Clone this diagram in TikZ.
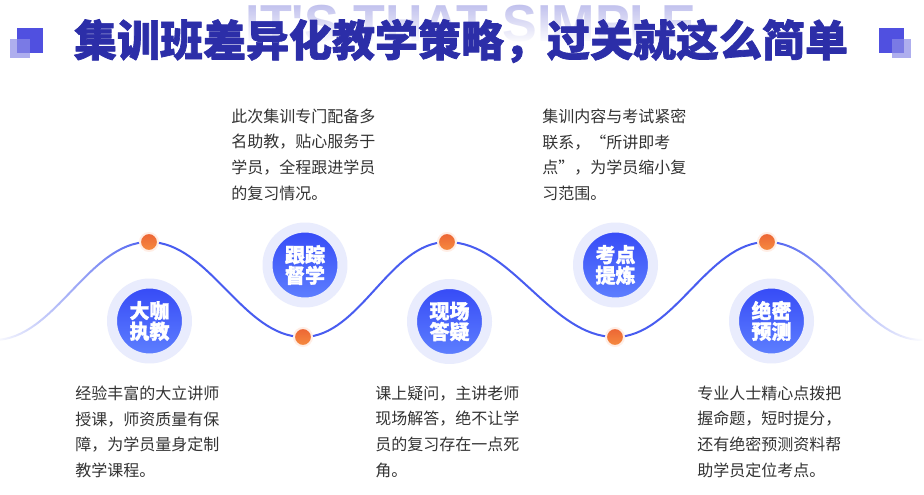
\documentclass[tikz,border=0pt]{standalone}
\usepackage{fontspec}
\usetikzlibrary{fadings}
\newfontfamily\cjk{Noto Sans CJK SC}
\newfontfamily\cjkheavy{Noto Sans CJK SC}[BoldFeatures={FakeBold=1.6}]
\newfontfamily\latinsans{Liberation Sans}

\definecolor{titleblue}{RGB}{44,46,168}
\definecolor{ghostlav}{RGB}{180,180,234}
\definecolor{sqdark}{RGB}{80,80,224}
\definecolor{sqlight}{RGB}{140,140,232}
\definecolor{waveblue}{RGB}{72,92,240}
\definecolor{ringlav}{RGB}{233,236,253}
\definecolor{badgetop}{RGB}{52,72,246}
\definecolor{badgebot}{RGB}{96,130,255}
\definecolor{dottop}{RGB}{236,100,52}
\definecolor{dotbot}{RGB}{246,140,64}
\definecolor{halopink}{RGB}{255,238,230}
\definecolor{bodygray}{RGB}{51,51,51}
\definecolor{arcgray}{RGB}{234,234,246}

\tikzfading[name=ghostfade,top color=transparent!92,bottom color=transparent!0]

\tikzset{
  badge/.style={circle,inner sep=0pt,minimum size=56.25pt,
    top color=badgetop,bottom color=badgebot,draw=ringlav,line width=7.5pt,
    text=white,align=center,font=\cjkheavy\bfseries\fontsize{15}{15.5}\selectfont},
  wavedot/.style={circle,inner sep=0pt,minimum size=13.5pt,
    top color=dottop,bottom color=dotbot,draw=halopink,line width=1.5pt},
  blurb/.style={anchor=north west,inner sep=0pt,align=left,text=bodygray,
    font=\cjk\fontsize{12}{19.3}\selectfont},
  wave/.style={waveblue,line width=1.5pt}
}

\begin{document}
\begin{tikzpicture}[x=0.75pt,y=-0.75pt,line cap=round,line join=round]
        \useasboundingbox (0,0) rectangle (924,495);
        \fill[white] (0,0) rectangle (924,495);

        % Arcos tenues del fondo
        \foreach \r in {0,9,20} {
            \draw[arcgray,line width=0.75pt]
                (2+\r,300) ++(186:1000+\r) arc[start angle=186,end angle=165,radius=1000+\r];
        }

        % Cuadros decorativos
        \fill[sqdark] (17,28) rectangle (43,53);
        \fill[sqlight,opacity=0.7] (10,39) rectangle (30,58);
        \fill[sqdark] (879,28) rectangle (904,53);
        \fill[sqlight,opacity=0.7] (892,39) rectangle (911,58);

        % Texto de fondo y titulo
        \node[ghostlav,anchor=base,font=\latinsans\bfseries\fontsize{39}{40}\selectfont]
            (ghost) at (471,42) {IT'S THAT SIMPLE};
        \fill[white,path fading=ghostfade] (200,0) rectangle (745,44);
        \node[titleblue,font=\cjkheavy\bfseries\fontsize{32.25}{34}\selectfont]
            (title) at (461,41) {集训班差异化教学策略，过关就这么简单};

        % Onda con sus puntos
        \coordinate (w0) at (-6,340);
        \coordinate (p1) at (149,242);
        \coordinate (p2) at (303,337);
        \coordinate (p3) at (447,242);
        \coordinate (p4) at (615,337);
        \coordinate (p5) at (767,242);
        \coordinate (w6) at (922,340);
        \draw[wave,path fading=west] (w0) to[out=0,in=180,looseness=0.85] (p1);
        \draw[wave] (p1) to[out=0,in=180,looseness=0.85] (p2)
            to[out=0,in=180,looseness=0.85] (p3)
            to[out=0,in=180,looseness=0.85] (p4)
            to[out=0,in=180,looseness=0.85] (p5);
        \draw[wave,path fading=east] (p5) to[out=0,in=180,looseness=0.85] (w6);
        \foreach \i in {1,...,5} {
            \node[wavedot] (dot\i) at (p\i) {};
        }

        % Insignias
        \node[badge] (dashi) at (149.5,321) {大咖\\执教};
        \node[badge] (genzong) at (305,265) {跟踪\\督学};
        \node[badge] (dayi) at (449.5,321.5) {现场\\答疑};
        \node[badge] (kaodian) at (615.5,265) {考点\\提炼};
        \node[badge] (yuce) at (771.5,321) {绝密\\预测};

        % Textos explicativos
        \node[blurb] (txtgenzong) at (231,108.5)
            {此次集训专门配备多\\名助教，贴心服务于\\学员，全程跟进学员\\的复习情况。};
        \node[blurb] (txtkaodian) at (542,108.5)
            {集训内容与考试紧密\\联系，“所讲即考\\点”，为学员缩小复\\习范围。};
        \node[blurb] (txtdashi) at (75,385.5)
            {经验丰富的大立讲师\\授课，师资质量有保\\障，为学员量身定制\\教学课程。};
        \node[blurb] (txtdayi) at (375,385.5)
            {课上疑问，主讲老师\\现场解答，绝不让学\\员的复习存在一点死\\角。};
        \node[blurb] (txtyuce) at (697,385.5)
            {专业人士精心点拨把\\握命题，短时提分，\\还有绝密预测资料帮\\助学员定位考点。};
    \end{tikzpicture}
\end{document}
